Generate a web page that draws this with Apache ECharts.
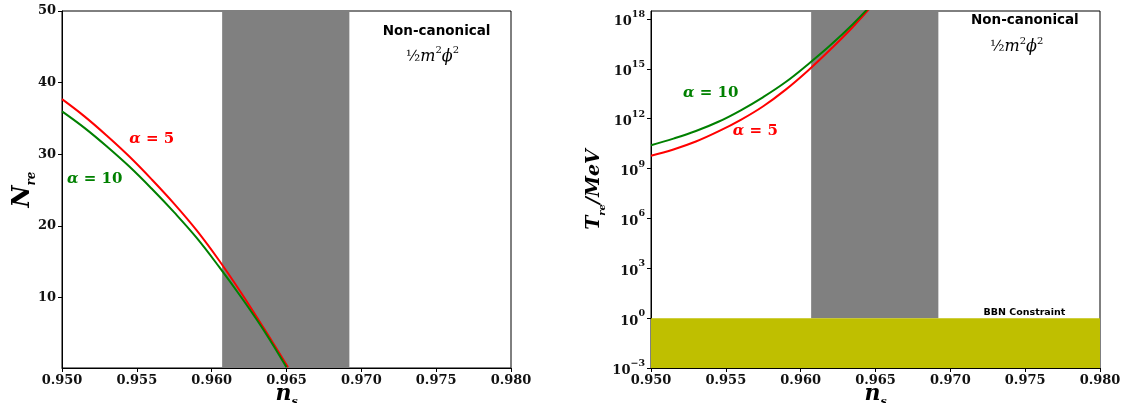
<!DOCTYPE html>
<html><head><meta charset="utf-8">
<script src="https://cdn.jsdelivr.net/npm/echarts@6/dist/echarts.min.js"></script>
<style>html,body{margin:0;padding:0;background:#fff}#c{width:1126px;height:403px}</style>
</head><body><div id="c"></div>
<script>
// ---- data ----
const xTicks = [0.950, 0.955, 0.960, 0.965, 0.970, 0.975, 0.980];
const nreTicks = [10, 20, 30, 40, 50];
const treTicks = [1e-3, 1e0, 1e3, 1e6, 1e9, 1e12, 1e15, 1e18];

const nsNred = [0.9500, 0.9515, 0.9530, 0.9545, 0.9560, 0.9575, 0.9590, 0.9605, 0.9620, 0.9635, 0.9651];
const nreRed = [37.7, 35.3, 32.6, 29.7, 26.5, 23.1, 19.4, 15.2, 10.6, 5.7, 0.3];
const nsNgreen = [0.9500, 0.9515, 0.9530, 0.9545, 0.9560, 0.9575, 0.9590, 0.9605, 0.9620, 0.9635, 0.9650];
const nreGreen = [36.0, 33.7, 31.1, 28.3, 25.2, 21.9, 18.35, 14.3, 10.0, 5.4, 0.3];

const nsT = [0.9500, 0.9515, 0.9530, 0.9545, 0.9560, 0.9575, 0.9590, 0.9605, 0.9620, 0.9635, 0.9650];
const treRed = [5.9e9, 1.4e10, 4.2e10, 1.7e11, 8.5e11, 5.6e12, 5.6e13, 8.0e14, 1.5e16, 3.4e17, 1.1e19];
const treGreen = [2.5e10, 6.3e10, 1.8e11, 6.5e11, 3.2e12, 2.0e13, 1.6e14, 1.9e15, 2.7e16, 5.0e17, 1.3e19];

const planckBand = [0.9607, 0.9692];
const bbnLimit = 1;   // MeV

// ---- styles ----
const SERIF = 'DejaVu Serif';
const SANS = 'DejaVu Sans';
const zip = (a, b) => a.map((v, i) => [v, b[i]]);

const tickLabel = {fontFamily: SERIF, fontWeight: 'bold', fontSize: 13, color: '#111'};
const supRich = {
  b: {fontFamily: SERIF, fontWeight: 'bold', fontSize: 13, color: '#111', lineHeight: 19, verticalAlign: 'bottom'},
  s: {fontFamily: SERIF, fontWeight: 'bold', fontSize: 9.5, color: '#111', lineHeight: 19, verticalAlign: 'top'}
};
const titleRich = (sz) => ({
  i: {fontFamily: SERIF, fontWeight: 'bold', fontStyle: 'italic', fontSize: sz, color: '#000', lineHeight: sz + 6, verticalAlign: 'middle'},
  u: {fontFamily: SERIF, fontWeight: 'bold', fontStyle: 'italic', fontSize: Math.round(sz * 0.5), color: '#000', lineHeight: sz + 6, verticalAlign: 'bottom'}
});
const formulaRich = {
  f: {fontFamily: SERIF, fontSize: 15, color: '#000', lineHeight: 22, verticalAlign: 'middle'},
  i: {fontFamily: SERIF, fontStyle: 'italic', fontSize: 16, color: '#000', lineHeight: 22, verticalAlign: 'middle'},
  s: {fontFamily: SERIF, fontSize: 10, color: '#000', lineHeight: 22, verticalAlign: 'top'}
};
const alphaRich = (col) => ({
  a: {fontFamily: SERIF, fontWeight: 'bold', fontStyle: 'italic', fontSize: 15, color: col},
  t: {fontFamily: SERIF, fontWeight: 'bold', fontSize: 15, color: col}
});
const note = (coord, text, rich) => ({
  coord: coord, symbol: 'circle', symbolSize: 0,
  label: {show: true, position: 'inside', formatter: text, rich: rich, color: '#000'}
});
const noteSans = (coord, text, size) => ({
  coord: coord, symbol: 'circle', symbolSize: 0,
  label: {show: true, position: 'inside', formatter: text, fontFamily: SANS, fontWeight: 'bold', fontSize: size, color: '#000'}
});

const xAxisBase = (gi) => ({
  type: 'value', gridIndex: gi, min: 0.95, max: 0.98,
  axisLine: {show: true, onZero: false, lineStyle: {color: '#000', width: 1}},
  axisTick: {show: true, inside: false, length: 4, customValues: xTicks, lineStyle: {color: '#000'}},
  axisLabel: Object.assign({margin: 6, customValues: xTicks, formatter: v => v.toFixed(3)}, tickLabel),
  splitLine: {show: false},
  name: '{i|n}{u|s}', nameLocation: 'middle', nameGap: 12, nameMoveOverlap: false,
  nameTextStyle: {rich: titleRich(22)}
});

const option = {
  animation: false,
  backgroundColor: '#fff',
  grid: [
    {left: 62, right: 615, top: 11, bottom: 35, show: true, borderColor: '#000', borderWidth: 1, backgroundColor: 'transparent', outerBoundsMode: 'none'},
    {left: 651, right: 26, top: 11, bottom: 35, show: true, borderColor: '#000', borderWidth: 1, backgroundColor: 'transparent', outerBoundsMode: 'none'}
  ],
  xAxis: [xAxisBase(0), xAxisBase(1)],
  yAxis: [
    {
      type: 'value', gridIndex: 0, min: 0.2, max: 50,
      axisLine: {show: true, onZero: false, lineStyle: {color: '#000', width: 1}},
      axisTick: {show: true, length: 4, customValues: nreTicks, lineStyle: {color: '#000'}},
      axisLabel: Object.assign({margin: 6, customValues: nreTicks}, tickLabel),
      splitLine: {show: false},
      name: '{i|N}{u|re}', nameLocation: 'middle', nameGap: 24, nameMoveOverlap: false,
      nameTextStyle: {rich: titleRich(24)}
    },
    {
      type: 'log', logBase: 10, gridIndex: 1, min: 1e-3, max: 3e18,
      axisLine: {show: true, onZero: false, lineStyle: {color: '#000', width: 1}},
      axisTick: {show: true, length: 4, customValues: treTicks, lineStyle: {color: '#000'}},
      axisLabel: {
        margin: 6, customValues: treTicks, rich: supRich,
        formatter: v => {
          const e = Math.round(Math.log10(v));
          return '{b|10}{s|' + (e < 0 ? '\u2212' + (-e) : e) + '}';
        }
      },
      splitLine: {show: false}, minorTick: {show: false},
      name: '{i|T}{u|re}{i|/MeV}', nameLocation: 'middle', nameGap: 44, nameMoveOverlap: false,
      nameTextStyle: {rich: titleRich(19)}
    }
  ],
  series: [
    {
      type: 'line', xAxisIndex: 0, yAxisIndex: 0, data: zip(nsNred, nreRed), smooth: 0.4,
      showSymbol: false, lineStyle: {color: '#ff0000', width: 2}, itemStyle: {color: '#ff0000'}, z: 3,
      markArea: {silent: true, itemStyle: {color: '#808080', opacity: 1}, data: [[{xAxis: planckBand[0]}, {xAxis: planckBand[1]}]]},
      markPoint: {silent: true, data: [
        note([0.9560, 32.1], '{a|\u03b1}{t| = 5}', alphaRich('#ff0000')),
        noteSans([0.97503, 47.1], 'Non-canonical', 13.5),
        note([0.97475, 43.6], '{f|\u00bd}{i|m}{s|2}{i|\u03d5}{s|2}', formulaRich)
      ]}
    },
    {
      type: 'line', xAxisIndex: 0, yAxisIndex: 0, data: zip(nsNgreen, nreGreen), smooth: 0.4,
      showSymbol: false, lineStyle: {color: '#008000', width: 2}, itemStyle: {color: '#008000'}, z: 4,
      markPoint: {silent: true, data: [
        note([0.95219, 26.5], '{a|\u03b1}{t| = 10}', alphaRich('#008000'))
      ]}
    },
    {
      type: 'line', xAxisIndex: 1, yAxisIndex: 1, data: zip(nsT, treRed), smooth: 0.4, clip: true,
      showSymbol: false, lineStyle: {color: '#ff0000', width: 2}, itemStyle: {color: '#ff0000'}, z: 3,
      markArea: {silent: true, data: [
        [{xAxis: planckBand[0], yAxis: bbnLimit, itemStyle: {color: '#808080', opacity: 1}}, {xAxis: planckBand[1], yAxis: 3e18}],
        [{xAxis: 0.95, yAxis: 1e-3, itemStyle: {color: '#bfbf00', opacity: 1}}, {xAxis: 0.98, yAxis: bbnLimit}]
      ]},
      markPoint: {silent: true, data: [
        note([0.95697, Math.pow(10, 11.28)], '{a|\u03b1}{t| = 5}', alphaRich('#ff0000')),
        noteSans([0.97498, Math.pow(10, 17.9)], 'Non-canonical', 13.5),
        note([0.97443, Math.pow(10, 16.3)], '{f|\u00bd}{i|m}{s|2}{i|\u03d5}{s|2}', formulaRich),
        noteSans([0.97495, Math.pow(10, 0.36)], 'BBN Constraint', 9.5)
      ]}
    },
    {
      type: 'line', xAxisIndex: 1, yAxisIndex: 1, data: zip(nsT, treGreen), smooth: 0.4, clip: true,
      showSymbol: false, lineStyle: {color: '#008000', width: 2}, itemStyle: {color: '#008000'}, z: 4,
      markPoint: {silent: true, data: [
        note([0.95399, Math.pow(10, 13.56)], '{a|\u03b1}{t| = 10}', alphaRich('#008000'))
      ]}
    }
  ]
};
const chart = echarts.init(document.getElementById('c'), null, {renderer: 'canvas'});
chart.setOption(option);
</script>
</body></html>
